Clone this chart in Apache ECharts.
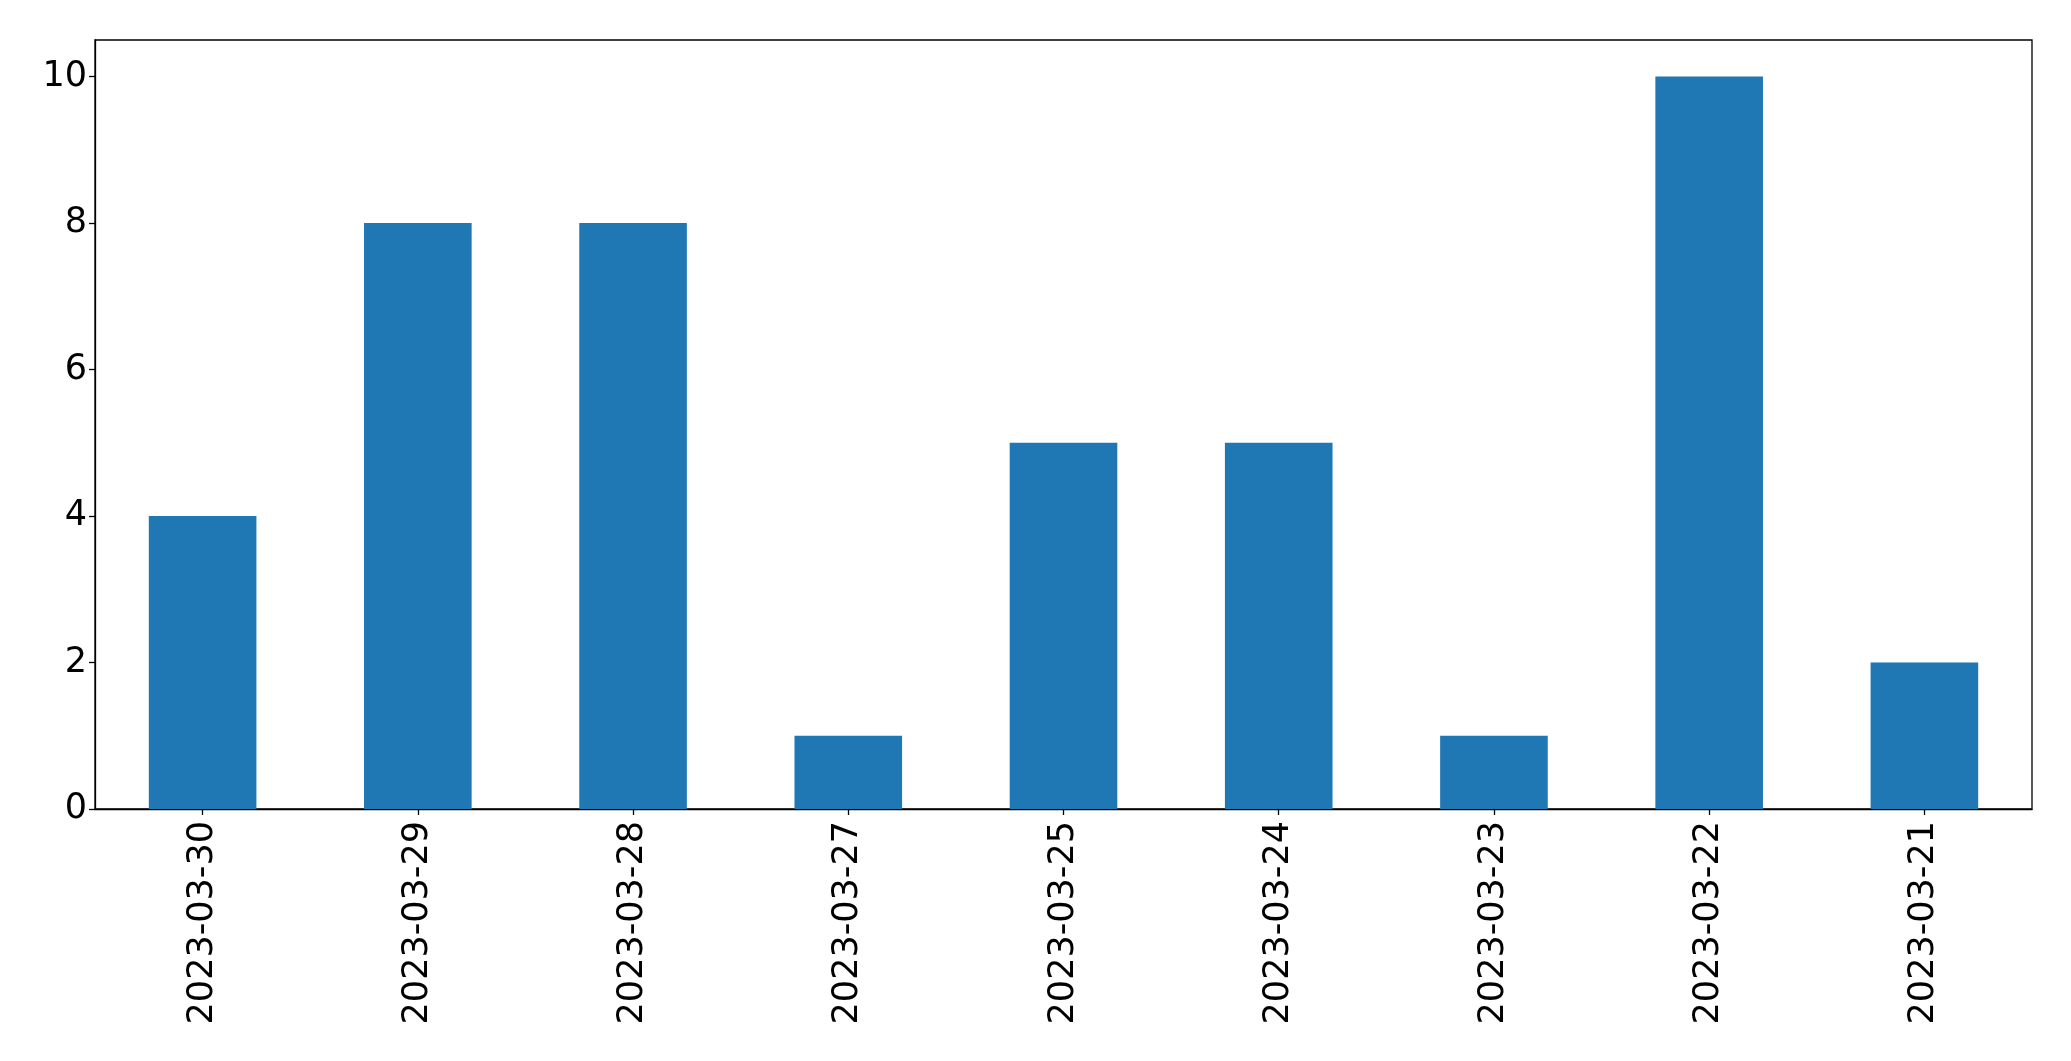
<!DOCTYPE html>
<html>
<head>
<meta charset="utf-8">
<script src="https://cdn.jsdelivr.net/npm/echarts@6/dist/echarts.min.js"></script>
<style>
html,body{margin:0;padding:0;background:#fff;}
#chart{width:2071px;height:1061px;}
</style>
</head>
<body>
<div id="chart"></div>
<script>
const categories = ['2023-03-30','2023-03-29','2023-03-28','2023-03-27','2023-03-25','2023-03-24','2023-03-23','2023-03-22','2023-03-21'];
const values = [4, 8, 8, 1, 5, 5, 1, 10, 2];
const yTicks = [0, 2, 4, 6, 8, 10];

const chart = echarts.init(document.getElementById('chart'), null, {renderer: 'canvas'});
const font = 'DejaVu Sans';
chart.setOption({
  animation: false,
  backgroundColor: '#fff',
  grid: {
    left: 95, right: 39, top: 40, bottom: 252,
    show: true, borderColor: '#000', borderWidth: 1.3, backgroundColor: 'transparent'
  },
  xAxis: {
    type: 'category',
    data: categories,
    axisLine: {show: true, lineStyle: {color: '#000', width: 1.3}},
    axisTick: {show: true, alignWithLabel: true, length: 6, lineStyle: {color: '#000', width: 1.3}},
    axisLabel: {rotate: 90, margin: 12, fontFamily: font, fontSize: 35, color: '#000', interval: 0},
    splitLine: {show: false}
  },
  yAxis: {
    type: 'value',
    min: 0, max: 10.5,
    axisLine: {show: true, lineStyle: {color: '#000', width: 1.3}},
    axisTick: {show: true, length: 6, lineStyle: {color: '#000', width: 1.3}, customValues: yTicks},
    axisLabel: {margin: 8, fontFamily: font, fontSize: 35, color: '#000', customValues: yTicks},
    splitLine: {show: false}
  },
  series: [{
    type: 'bar',
    data: values,
    barWidth: '50%',
    itemStyle: {color: '#1f77b4'}
  }]
});
</script>
</body>
</html>
